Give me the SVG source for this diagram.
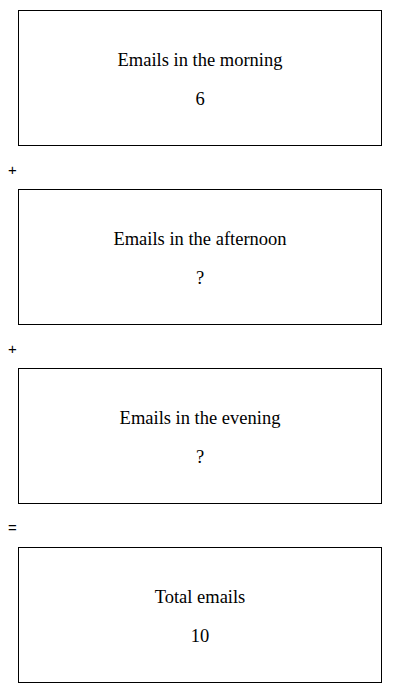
<svg xmlns="http://www.w3.org/2000/svg" width="400" height="693" viewBox="0 0 400 693">
<style>
.box{fill:#fff;stroke:#000;stroke-width:1}
.t{font-family:"Liberation Serif","DejaVu Serif",serif;font-size:18.5px;text-anchor:middle;fill:#000}
.op{font-family:"Liberation Sans",Arial,sans-serif;font-size:15px;text-anchor:middle;fill:#000}
</style>
<rect width="400" height="693" fill="#fff"/>
<g id="morning">
<rect class="box" x="18.5" y="10.5" width="363" height="135"/>
<text class="t" x="200" y="66">Emails in the morning</text>
<text class="t" x="200" y="105">6</text>
</g>
<g id="afternoon">
<rect class="box" x="18.5" y="189.5" width="363" height="135"/>
<text class="t" x="200" y="245">Emails in the afternoon</text>
<text class="t" x="200" y="284">?</text>
</g>
<g id="evening">
<rect class="box" x="18.5" y="368.5" width="363" height="135"/>
<text class="t" x="200" y="424">Emails in the evening</text>
<text class="t" x="200" y="463">?</text>
</g>
<g id="total">
<rect class="box" x="18.5" y="547.5" width="363" height="135"/>
<text class="t" x="200" y="603">Total emails</text>
<text class="t" x="200" y="642">10</text>
</g>
<g id="connectors">
<text class="op" x="12.5" y="175">+</text>
<text class="op" x="12.5" y="354">+</text>
<text class="op" x="12.5" y="533">=</text>
</g>
</svg>
